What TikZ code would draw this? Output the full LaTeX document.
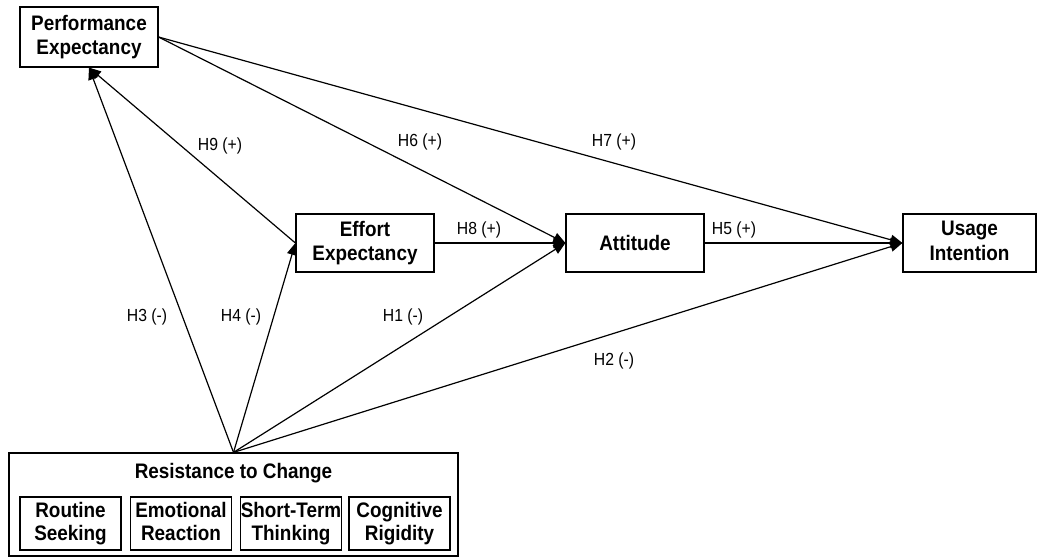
\documentclass[tikz,border=0pt]{standalone}
\usepackage{fontspec}
\setmainfont{Liberation Sans}[FakeStretch=0.9]
\usetikzlibrary{arrows.meta}
\begin{document}
\begin{tikzpicture}[x=1pt,y=-1pt,
  construct/.style={draw, line width=1.2pt, inner sep=0pt, align=center,
    font=\bfseries\fontsize{21}{24.5}\selectfont},
  subscale/.style={draw, line width=1.2pt, inner sep=0pt, align=center,
    minimum width=101pt, minimum height=53pt,
    font=\bfseries\fontsize{21}{22.5}\selectfont},
  path/.style={line width=1.2pt, -{Triangle[length=12pt,width=10pt]}},
  hyp/.style={font=\fontsize{17.5}{20}\selectfont, inner sep=0pt}]
  \useasboundingbox (0,0) rectangle (1038,558);

  % constructs
  \node[construct, minimum width=138pt, minimum height=60pt] (pe) at (89,37) {Performance\\Expectancy};
  \node[construct, minimum width=138pt, minimum height=58pt] (ee) at (365,243) {Effort\\Expectancy};
  \node[construct, minimum width=138pt, minimum height=58pt] (att) at (635,243) {Attitude};
  \node[construct, minimum width=133pt, minimum height=58pt] (ui) at (969.5,243) {Usage\\Intention\vphantom{y}};

  % resistance to change with its four dimensions
  \node[draw, line width=1.2pt, minimum width=449pt, minimum height=103pt, inner sep=0pt] (rtc) at (233.5,504.5) {};
  \node[font=\bfseries\fontsize{21}{24}\selectfont, inner sep=0pt] (rtctitle) at (233.5,473) {Resistance to Change};
  \node[subscale] (rs) at (70.5,523.5) {Routine\\Seeking};
  \node[subscale] (er) at (181,523.5) {Emotional\\Reaction\vphantom{g}};
  \node[subscale] (st) at (291,523.5) {Short-Term\\Thinking};
  \node[subscale] (cr) at (399.5,523.5) {Cognitive\\Rigidity};

  % hypothesised paths
  \draw[path] (rtc.north) -- (pe.south);
  \draw[path] (ee.west) -- (pe.south);
  \draw[path] (rtc.north) -- (ee.west);
  \draw[path] (ee.east) -- (att.west);
  \draw[path] (pe.east) -- (att.west);
  \draw[path] (rtc.north) -- (att.west);
  \draw[path] (pe.east) -- (ui.west);
  \draw[path] (att.east) -- (ui.west);
  \draw[path] (rtc.north) -- (ui.west);

  % hypothesis labels
  \node[hyp] (h9) at (220,146) {H9 (+)};
  \node[hyp] (h6) at (420,142) {H6 (+)};
  \node[hyp] (h7) at (614,142) {H7 (+)};
  \node[hyp] (h8) at (479,230) {H8 (+)};
  \node[hyp] (h5) at (734,230) {H5 (+)};
  \node[hyp] (h3) at (147,317) {H3 (-)};
  \node[hyp] (h4) at (241,317) {H4 (-)};
  \node[hyp] (h1) at (403,317) {H1 (-)};
  \node[hyp] (h2) at (614,361) {H2 (-)};
\end{tikzpicture}
\end{document}
